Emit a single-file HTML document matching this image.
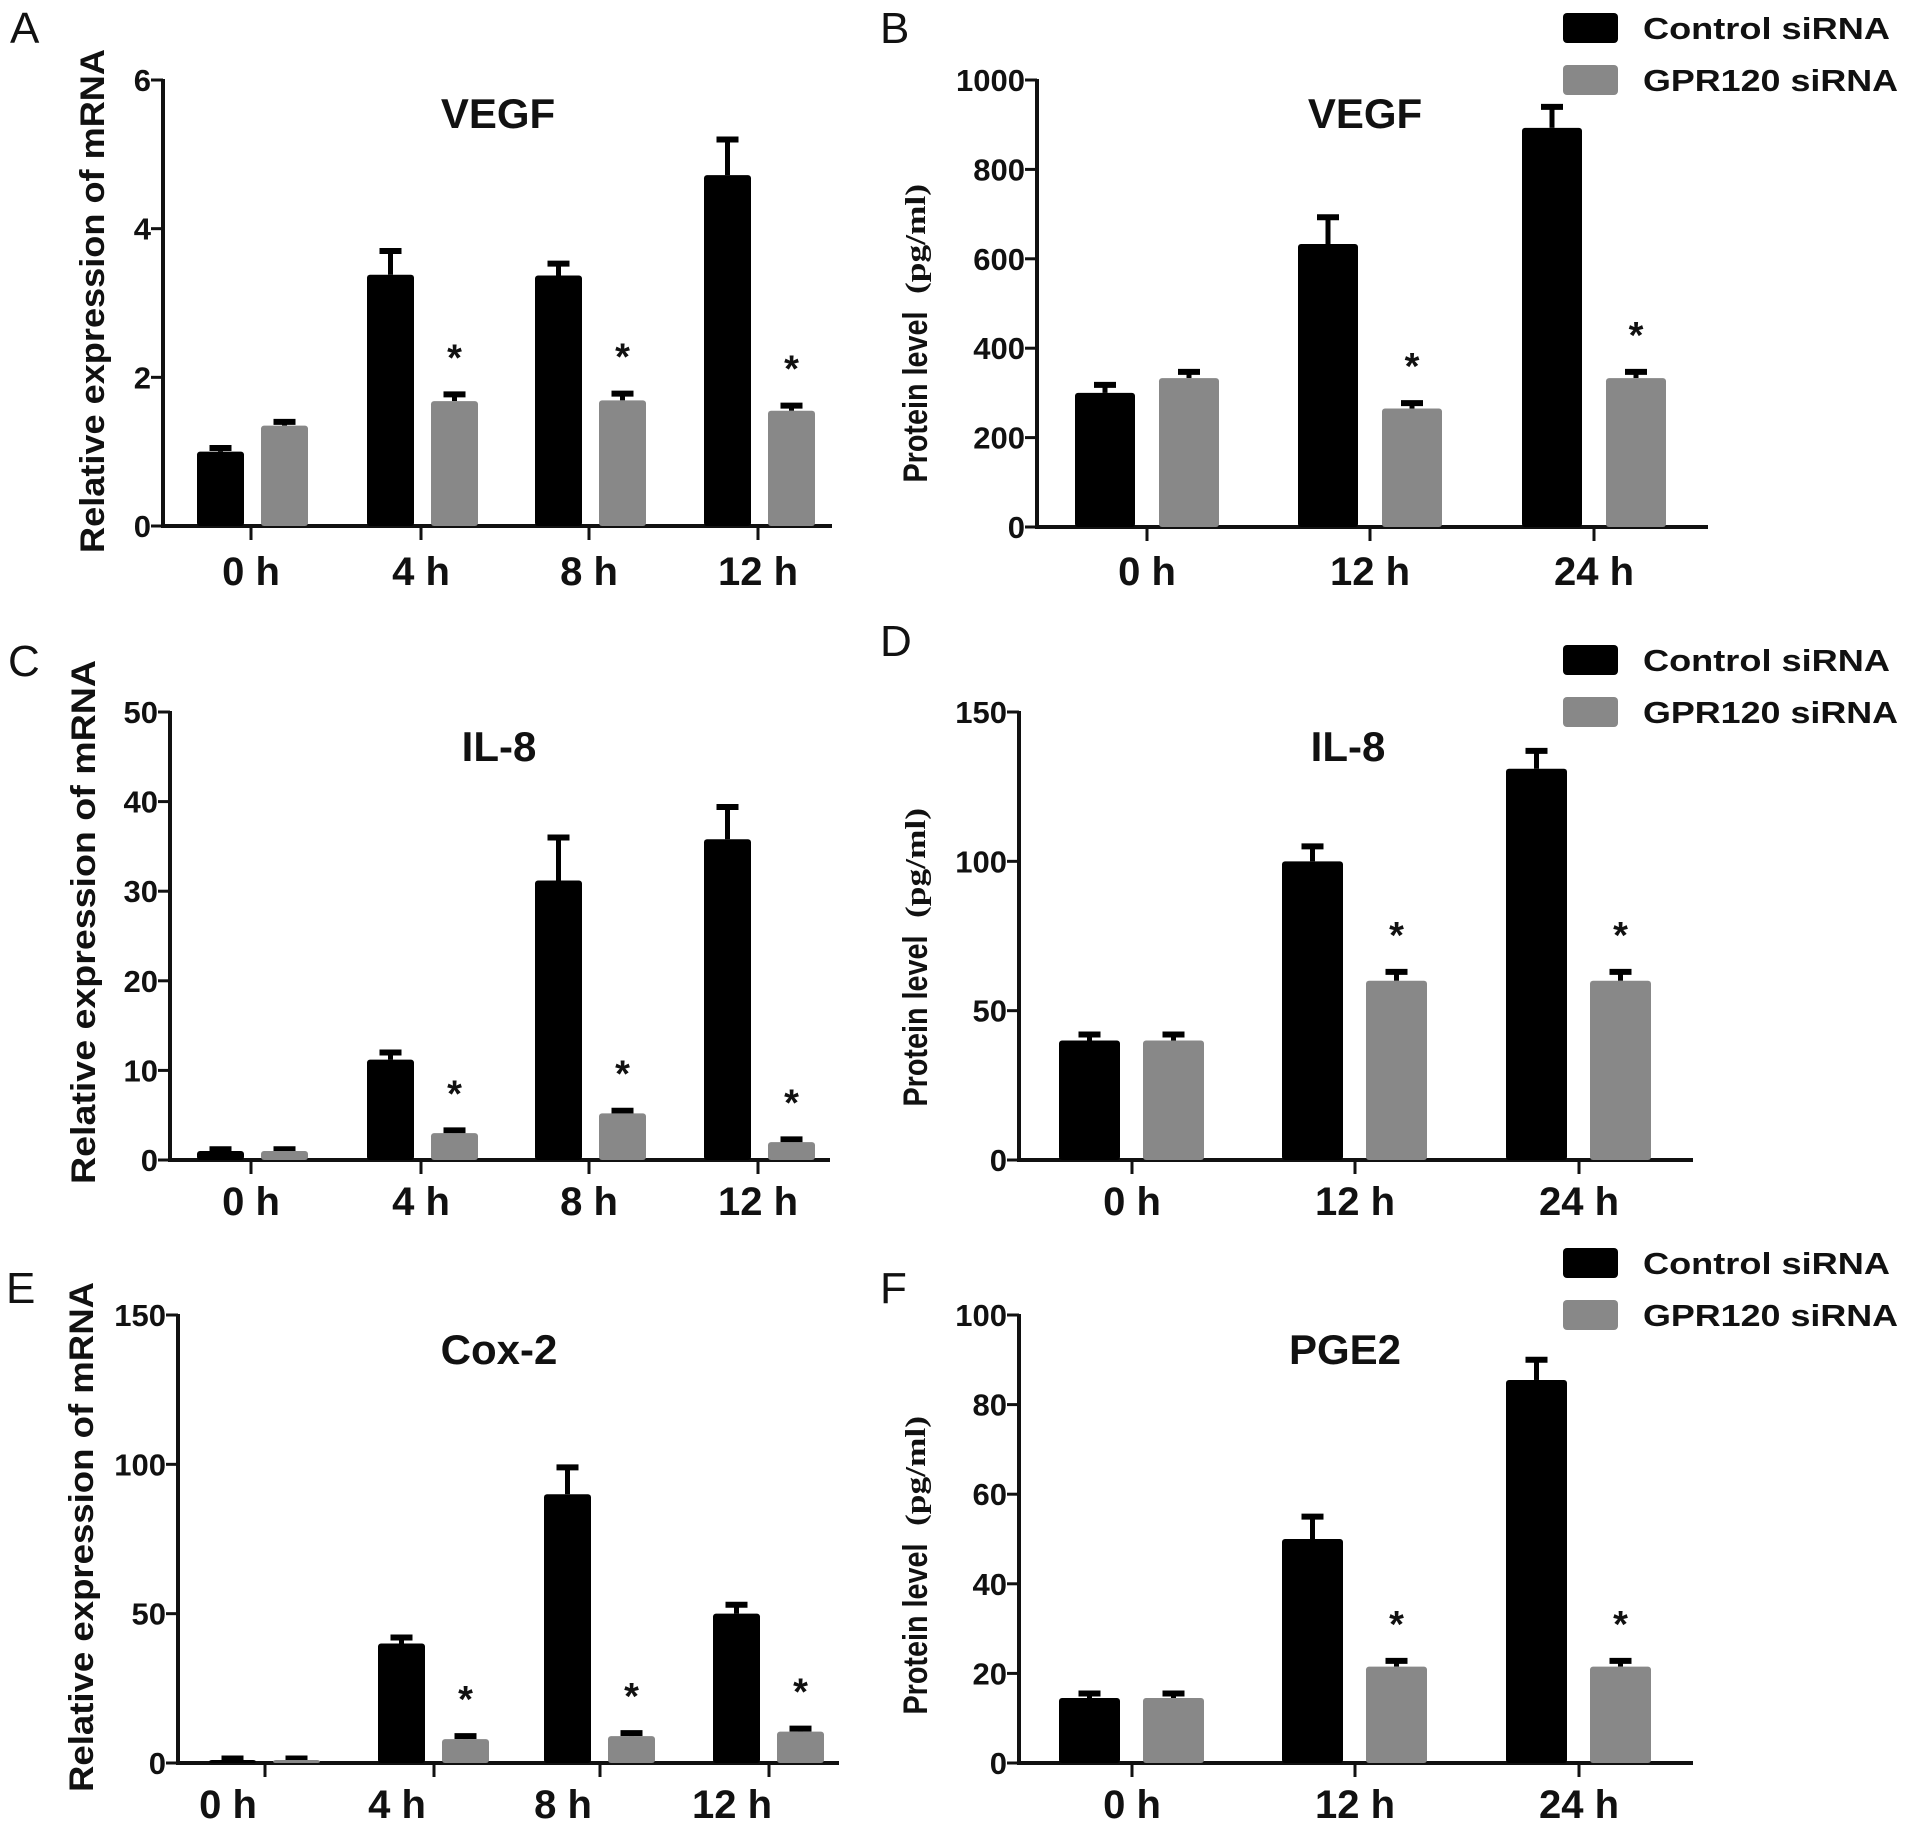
<!DOCTYPE html>
<html><head><meta charset="utf-8"><style>
html,body{margin:0;padding:0;background:#fff;}
svg{display:block;}
text{font-family:"Liberation Sans",sans-serif;font-weight:bold;fill:#111;}
.cond{font-family:"Liberation Sans Narrow","Liberation Sans",sans-serif;}
.serif{font-family:"Liberation Serif",serif;}
</style></head><body>
<svg id="fig" width="1913" height="1828" viewBox="0 0 1913 1828" xmlns="http://www.w3.org/2000/svg"></svg>
<script>
// Panel A data
const catsA = ["0 h","4 h","8 h","12 h"];
const ctrlA = [1.0, 3.38, 3.37, 4.72];
const ctrlErrA = [1.05, 3.7, 3.53, 5.2];
const gprA = [1.35, 1.68, 1.69, 1.55];
const gprErrA = [1.4, 1.77, 1.78, 1.62];
const ticksA = [0, 2, 4, 6];
const starsA = [false, true, true, true];
// Panel B data
const catsB = ["0 h","12 h","24 h"];
const ctrlB = [300, 633, 893];
const ctrlErrB = [318, 693, 940];
const gprB = [333, 265, 333];
const gprErrB = [347, 277, 347];
const ticksB = [0, 200, 400, 600, 800, 1000];
const starsB = [false, true, true];
// Panel C data
const catsC = ["0 h","4 h","8 h","12 h"];
const ctrlC = [1.0, 11.2, 31.2, 35.8];
const ctrlErrC = [1.2, 12.0, 36.0, 39.4];
const gprC = [1.0, 3.0, 5.2, 2.0];
const gprErrC = [1.2, 3.3, 5.5, 2.3];
const ticksC = [0, 10, 20, 30, 40, 50];
const starsC = [false, true, true, true];
// Panel D data
const catsD = ["0 h","12 h","24 h"];
const ctrlD = [40, 100, 131];
const ctrlErrD = [42, 105, 137];
const gprD = [40, 60, 60];
const gprErrD = [42, 63, 63];
const ticksD = [0, 50, 100, 150];
const starsD = [false, true, true];
// Panel E data
const catsE = ["0 h","4 h","8 h","12 h"];
const ctrlE = [1.0, 40, 90, 50];
const ctrlErrE = [1.5, 42, 99, 53];
const gprE = [1.0, 8, 9, 10.5];
const gprErrE = [1.5, 9, 10, 11.5];
const ticksE = [0, 50, 100, 150];
const starsE = [false, true, true, true];
// Panel F data
const catsF = ["0 h","12 h","24 h"];
const ctrlF = [14.5, 50, 85.5];
const ctrlErrF = [15.5, 55, 90];
const gprF = [14.5, 21.5, 21.5];
const gprErrF = [15.5, 22.8, 22.8];
const ticksF = [0, 20, 40, 60, 80, 100];
const starsF = [false, true, true];

const NS = "http://www.w3.org/2000/svg";
const svg = document.getElementById("fig");
function mk(tag, attrs, parent){
  const e = document.createElementNS(NS, tag);
  for (const k in attrs) e.setAttribute(k, attrs[k]);
  (parent||svg).appendChild(e);
  return e;
}
function txt(str, attrs, parent){
  const t = mk("text", attrs, parent);
  t.textContent = str;
  return t;
}

function panel(cfg){
  const g = mk("g", {});
  
  
  const ymax = cfg.ticks[cfg.ticks.length-1];
  const y = v => cfg.y0 - (v/ymax)*(cfg.y0-cfg.yTop);
  const n = cfg.cats.length;
  const xc = i => cfg.tickX[i];
  const lblDx = cfg.lblDx || 0;
  const ya = mk("line", {x1:cfg.ax, x2:cfg.ax, y1:y(ymax)-1, y2:cfg.y0+2, stroke:"#111","stroke-width":4}, g);
  
  
  cfg.ticks.forEach(tv => {
    const tl = mk("line", {x1:cfg.ax-12, x2:cfg.ax, y1:y(tv), y2:y(tv), stroke:"#111","stroke-width":3}, g);
    
    
    const tt = txt(String(tv), {x:cfg.ax-12, y:y(tv)+11, "text-anchor":"end","font-size":31, class:"cond"}, g);
    
    
  });
  const xa = mk("line", {x1:cfg.ax-2, x2:cfg.xEnd, y1:cfg.y0, y2:cfg.y0, stroke:"#111","stroke-width":4}, g);
  
  
  for (let i=0;i<n;i++){
    const tk = mk("line", {x1:xc(i), x2:xc(i), y1:cfg.y0, y2:cfg.y0+14, stroke:"#111","stroke-width":3}, g);
    
    
    const xl = txt(cfg.cats[i], {x:xc(i)+lblDx, y:cfg.labelY+14, "text-anchor":"middle","font-size":40, class:"cond"}, g);
    
    
    const series = [
      {v:cfg.ctrl[i], e:cfg.ctrlErr[i], x:xc(i)+cfg.off0, fill:"#000", nm:"bar-control"},
      {v:cfg.gpr[i], e:cfg.gprErr[i], x:xc(i)+cfg.off1, fill:"#888", nm:"bar-gpr120"}
    ];
    series.forEach(s => {
      const cx = s.x + cfg.bw/2;
      const el = mk("line", {x1:cx, x2:cx, y1:y(s.v), y2:y(s.e), stroke:"#000","stroke-width":5}, g);
      
      
      const cap = mk("line", {x1:cx-11, x2:cx+11, y1:y(s.e), y2:y(s.e), stroke:"#000","stroke-width":6}, g);
      
      
      const r = mk("rect", {x:s.x, y:y(s.v), width:cfg.bw, height:cfg.y0-y(s.v), fill:s.fill, rx:3}, g);
      
      
    });
    if (cfg.stars[i]){
      const cx = xc(i)+cfg.off1+cfg.bw/2;
      const st = txt("*", {x:cx, y:y(cfg.gprErr[i])-24, "text-anchor":"middle","font-size":38, class:"cond"}, g);
      
      
    }
  }
  const ti = txt(cfg.title, {x:cfg.titleX, y:cfg.titleY+15, "text-anchor":"middle","font-size":42, class:"cond"}, g);
  
  
  const lt = txt(cfg.letter, {x:cfg.letterX, y:cfg.letterY+16, "font-size":44, class:"cond", style:"font-weight:normal"}, g);
  
  
  if (cfg.mrna){
    const yt = txt("Relative expression of mRNA", {x:0, y:0, "text-anchor":"middle","font-size":34, textLength:cfg.ytLen, lengthAdjust:"spacingAndGlyphs", transform:`translate(${cfg.ytX},${cfg.ytY}) rotate(-90)`}, g);
    
    
  } else {
    const yt = txt("Protein level", {x:0, y:0, "text-anchor":"middle","font-size":34, textLength:171, lengthAdjust:"spacingAndGlyphs", transform:`translate(${cfg.ytX},${cfg.ytY}) rotate(-90)`}, g);
    
    
    const yu = txt("(pg/ml)", {x:0, y:0, "text-anchor":"middle","font-size":28, class:"serif", textLength:110, lengthAdjust:"spacingAndGlyphs", transform:`translate(${cfg.ytX-2},${cfg.ytY-158}) rotate(-90)`}, g);
    
    
  }
  if (cfg.legendY !== undefined){
    const lg = mk("g", {}, g);
    
    
    const items = [["Control siRNA","#000",0,247],["GPR120 siRNA","#888",52,255]];
    items.forEach(it => {
      const sw = mk("rect", {x:1563, y:cfg.legendY+it[2], width:55, height:30, fill:it[1], rx:4}, lg);
      
      
      const lt2 = txt(it[0], {x:1643, y:cfg.legendY+it[2]+26, "font-size":31, textLength:it[3], lengthAdjust:"spacingAndGlyphs"}, lg);
      
      
    });
  }
}

const leftTicks = [251, 421, 589, 758];
const rightTicks = [1147, 1370, 1594];
panel({name:"panel-a-vegf-mrna", cats:catsA, ctrl:ctrlA, ctrlErr:ctrlErrA, gpr:gprA, gprErr:gprErrA, ticks:ticksA, stars:starsA,
  ax:163, yTop:80, y0:526, xEnd:832, tickX:leftTicks, off0:-54, off1:10, bw:47, labelY:571,
  title:"VEGF", titleX:498, titleY:113, letter:"A", letterX:10, letterY:27, mrna:true, ytX:104, ytY:301, ytLen:504});
panel({name:"panel-b-vegf-protein", cats:catsB, ctrl:ctrlB, ctrlErr:ctrlErrB, gpr:gprB, gprErr:gprErrB, ticks:ticksB, stars:starsB,
  ax:1037, yTop:80, y0:527, xEnd:1708, tickX:rightTicks, off0:-72, off1:12, bw:60, labelY:571,
  title:"VEGF", titleX:1365, titleY:113, letter:"B", letterX:880, letterY:27, mrna:false, ytX:927, ytY:397, legendY:13});
panel({name:"panel-c-il8-mrna", cats:catsC, ctrl:ctrlC, ctrlErr:ctrlErrC, gpr:gprC, gprErr:gprErrC, ticks:ticksC, stars:starsC,
  ax:170, yTop:712, y0:1160, xEnd:830, tickX:leftTicks, off0:-54, off1:10, bw:47, labelY:1201,
  title:"IL-8", titleX:499, titleY:746, letter:"C", letterX:8, letterY:660, mrna:true, ytX:95, ytY:922, ytLen:524});
panel({name:"panel-d-il8-protein", cats:catsD, ctrl:ctrlD, ctrlErr:ctrlErrD, gpr:gprD, gprErr:gprErrD, ticks:ticksD, stars:starsD,
  ax:1019, yTop:712, y0:1160, xEnd:1693, tickX:[1132,1355,1579], off0:-73, off1:11, bw:61, labelY:1201,
  title:"IL-8", titleX:1348, titleY:746, letter:"D", letterX:880, letterY:640, mrna:false, ytX:927, ytY:1021, legendY:645});
panel({name:"panel-e-cox2-mrna", cats:catsE, ctrl:ctrlE, ctrlErr:ctrlErrE, gpr:gprE, gprErr:gprErrE, ticks:ticksE, stars:starsE,
  ax:178, yTop:1315, y0:1763, xEnd:839, tickX:[265,434,600,769], off0:-56, off1:8, bw:47, labelY:1804, lblDx:-37,
  title:"Cox-2", titleX:499, titleY:1349, letter:"E", letterX:6, letterY:1287, mrna:true, ytX:93, ytY:1537, ytLen:510});
panel({name:"panel-f-pge2-protein", cats:catsF, ctrl:ctrlF, ctrlErr:ctrlErrF, gpr:gprF, gprErr:gprErrF, ticks:ticksF, stars:starsF,
  ax:1019, yTop:1315, y0:1763, xEnd:1693, tickX:[1132,1355,1579], off0:-73, off1:11, bw:61, labelY:1804,
  title:"PGE2", titleX:1345, titleY:1349, letter:"F", letterX:880, letterY:1287, mrna:false, ytX:927, ytY:1629, legendY:1248});
</script>
</body></html>
